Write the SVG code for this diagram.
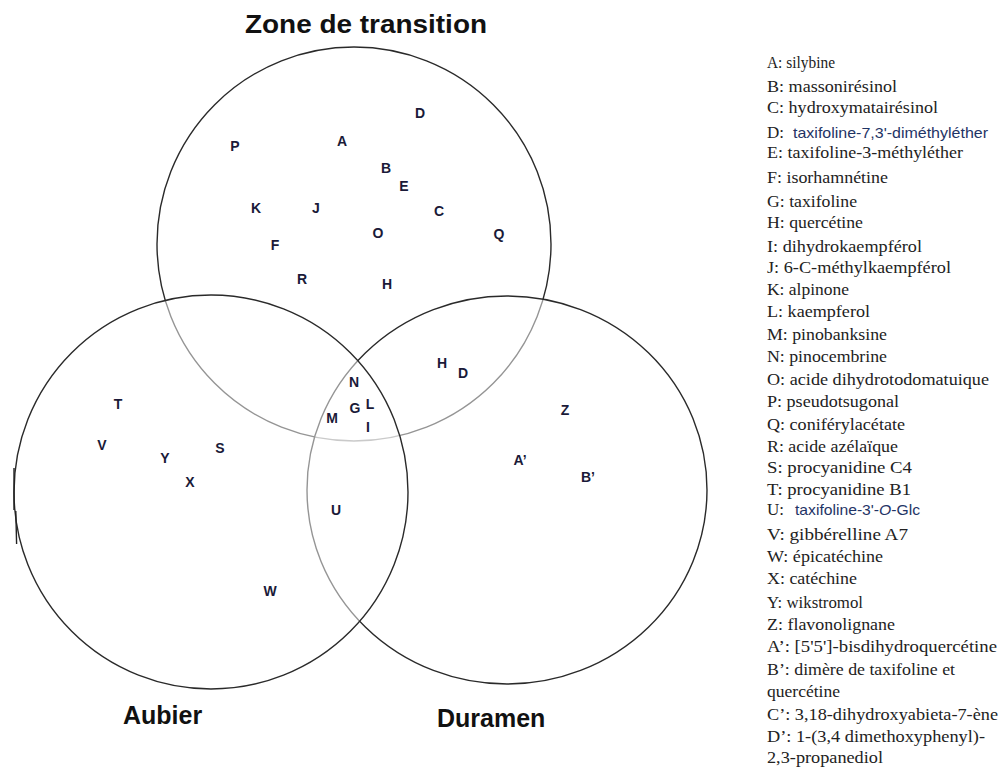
<svg xmlns="http://www.w3.org/2000/svg" width="1007" height="767" viewBox="0 0 1007 767">
<style>
.set{fill:#fff;fill-opacity:0.5;stroke:#2a2a2a;stroke-width:1.4}
.ttl{font-family:"Liberation Sans",Arial,sans-serif;font-weight:bold;font-size:25px;fill:#111}
.lt{font-family:"Liberation Sans",Arial,sans-serif;font-weight:bold;font-size:14px;fill:#1a1a38;text-anchor:middle}
.lg{font-family:"Liberation Serif","Times New Roman",serif;font-size:17px;fill:#222}
.lb{font-family:"Liberation Sans",Arial,sans-serif;font-size:15px;fill:#1f3466}
</style>
<rect width="1007" height="767" fill="#fff"/>
<g id="set-transition"><circle class="set" cx="354" cy="244" r="197"/></g>
<g id="set-duramen"><ellipse class="set" cx="507" cy="490" rx="200" ry="194"/></g>
<g id="set-aubier"><circle class="set" cx="211" cy="492" r="197"/>
<path d="M14,468 L14,510 M15.8,511 L16.6,544" fill="none" stroke="#222" stroke-width="1.4"/></g>
<g id="titles">
<text class="ttl" x="245" y="33" textLength="242" lengthAdjust="spacingAndGlyphs">Zone de transition</text>
<text class="ttl" x="123" y="724">Aubier</text>
<text class="ttl" x="437" y="727">Duramen</text>
</g>
<g id="labels-transition">
<text class="lt" x="235" y="151">P</text>
<text class="lt" x="342" y="146">A</text>
<text class="lt" x="420" y="118">D</text>
<text class="lt" x="386" y="173">B</text>
<text class="lt" x="404" y="191">E</text>
<text class="lt" x="439" y="216">C</text>
<text class="lt" x="499" y="239">Q</text>
<text class="lt" x="256" y="213">K</text>
<text class="lt" x="316" y="213">J</text>
<text class="lt" x="378" y="238">O</text>
<text class="lt" x="275" y="250">F</text>
<text class="lt" x="302" y="284">R</text>
<text class="lt" x="387" y="289">H</text>
</g>
<g id="labels-center">
<text class="lt" x="354" y="387">N</text>
<text class="lt" x="355" y="413">G</text>
<text class="lt" x="370" y="409">L</text>
<text class="lt" x="332" y="423">M</text>
<text class="lt" x="368" y="432">I</text>
</g>
<g id="labels-transition-duramen">
<text class="lt" x="442" y="368">H</text>
<text class="lt" x="463" y="378">D</text>
</g>
<g id="labels-aubier">
<text class="lt" x="118" y="409">T</text>
<text class="lt" x="102" y="450">V</text>
<text class="lt" x="165" y="463">Y</text>
<text class="lt" x="220" y="453">S</text>
<text class="lt" x="190" y="487">X</text>
<text class="lt" x="270" y="596">W</text>
</g>
<g id="labels-aubier-duramen">
<text class="lt" x="336" y="515">U</text>
</g>
<g id="labels-duramen">
<text class="lt" x="565" y="415">Z</text>
<text class="lt" x="520" y="465">A’</text>
<text class="lt" x="588" y="482">B’</text>
</g>
<g id="legend">
<text class="lg" x="767" y="68" textLength="68" lengthAdjust="spacingAndGlyphs">A: silybine</text>
<text class="lg" x="767" y="92" textLength="130" lengthAdjust="spacingAndGlyphs">B: massonirésinol</text>
<text class="lg" x="767" y="113" textLength="171" lengthAdjust="spacingAndGlyphs">C: hydroxymatairésinol</text>
<text class="lg" x="767" y="138">D:</text><text class="lb" x="793" y="138" textLength="195" lengthAdjust="spacingAndGlyphs">taxifoline-7,3'-diméthyléther</text>
<text class="lg" x="767" y="158" textLength="196" lengthAdjust="spacingAndGlyphs">E:  taxifoline-3-méthyléther</text>
<text class="lg" x="767" y="183" textLength="121" lengthAdjust="spacingAndGlyphs">F: isorhamnétine</text>
<text class="lg" x="767" y="207" textLength="90" lengthAdjust="spacingAndGlyphs">G: taxifoline</text>
<text class="lg" x="767" y="228" textLength="96" lengthAdjust="spacingAndGlyphs">H: quercétine</text>
<text class="lg" x="767" y="252" textLength="155" lengthAdjust="spacingAndGlyphs">I: dihydrokaempférol</text>
<text class="lg" x="767" y="273" textLength="184" lengthAdjust="spacingAndGlyphs">J: 6-C-méthylkaempférol</text>
<text class="lg" x="767" y="295" textLength="82" lengthAdjust="spacingAndGlyphs">K: alpinone</text>
<text class="lg" x="767" y="317" textLength="103" lengthAdjust="spacingAndGlyphs">L: kaempferol</text>
<text class="lg" x="767" y="340" textLength="120" lengthAdjust="spacingAndGlyphs">M: pinobanksine</text>
<text class="lg" x="767" y="362" textLength="120" lengthAdjust="spacingAndGlyphs">N: pinocembrine</text>
<text class="lg" x="767" y="385" textLength="222" lengthAdjust="spacingAndGlyphs">O: acide  dihydrotodomatuique</text>
<text class="lg" x="767" y="407" textLength="132" lengthAdjust="spacingAndGlyphs">P: pseudotsugonal</text>
<text class="lg" x="767" y="430" textLength="138" lengthAdjust="spacingAndGlyphs">Q: coniférylacétate</text>
<text class="lg" x="767" y="452" textLength="131" lengthAdjust="spacingAndGlyphs">R: acide  azélaïque</text>
<text class="lg" x="767" y="473" textLength="145" lengthAdjust="spacingAndGlyphs">S: procyanidine  C4</text>
<text class="lg" x="767" y="495" textLength="144" lengthAdjust="spacingAndGlyphs">T: procyanidine  B1</text>
<text class="lg" x="767" y="515">U:</text><text class="lb" x="795" y="515" textLength="125" lengthAdjust="spacingAndGlyphs">taxifoline-3'-<tspan font-style="italic">O</tspan>-Glc</text>
<text class="lg" x="767" y="540" textLength="141" lengthAdjust="spacingAndGlyphs">V: gibbérelline  A7</text>
<text class="lg" x="767" y="562" textLength="116" lengthAdjust="spacingAndGlyphs">W:  épicatéchine</text>
<text class="lg" x="767" y="584" textLength="90" lengthAdjust="spacingAndGlyphs">X: catéchine</text>
<text class="lg" x="767" y="608" textLength="96" lengthAdjust="spacingAndGlyphs">Y: wikstromol</text>
<text class="lg" x="767" y="630" textLength="128" lengthAdjust="spacingAndGlyphs">Z: flavonolignane</text>
<text class="lg" x="767" y="652" textLength="230" lengthAdjust="spacingAndGlyphs">A’: [5'5']-bisdihydroquercétine</text>
<text class="lg" x="767" y="675" textLength="188" lengthAdjust="spacingAndGlyphs">B’: dimère  de taxifoline  et</text>
<text class="lg" x="767" y="697" textLength="73" lengthAdjust="spacingAndGlyphs">quercétine</text>
<text class="lg" x="767" y="720" textLength="231" lengthAdjust="spacingAndGlyphs">C’: 3,18-dihydroxyabieta-7-ène</text>
<text class="lg" x="767" y="742" textLength="218" lengthAdjust="spacingAndGlyphs">D’: 1-(3,4 dimethoxyphenyl)-</text>
<text class="lg" x="767" y="763" textLength="116" lengthAdjust="spacingAndGlyphs">2,3-propanediol</text>
</g>
</svg>
